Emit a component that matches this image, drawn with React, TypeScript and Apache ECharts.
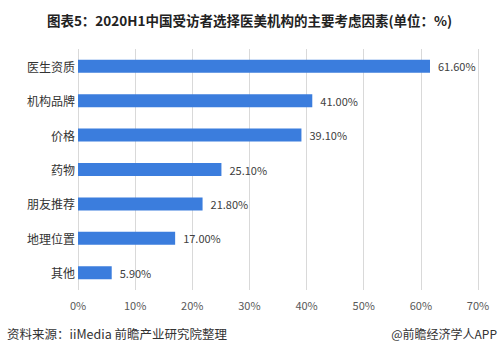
import React, { useEffect, useRef } from "react";
import * as echarts from "echarts";

const categories = ["医生资质", "机构品牌", "价格", "药物", "朋友推荐", "地理位置", "其他"];
const values = [61.6, 41.0, 39.1, 25.1, 21.8, 17.0, 5.9];
const titleText = "图表5：2020H1中国受访者选择医美机构的主要考虑因素(单位：%)";
const sourceText = "资料来源：iiMedia 前瞻产业研究院整理";
const brandText = "@前瞻经济学人APP";

export default function App() {
  const ref = useRef<HTMLDivElement>(null);
  useEffect(() => {
    const chart = echarts.init(ref.current!, null, { renderer: "svg" });
    chart.setOption({
      animation: false,
      backgroundColor: "#ffffff",
      textStyle: { fontFamily: "'Noto Sans CJK SC', sans-serif" },
      title: {
        text: titleText,
        left: "center",
        top: 8,
        textStyle: { fontSize: 13.5, fontWeight: "bold", color: "#222" },
      },
      grid: { left: 78, right: 21, top: 49, bottom: 63, containLabel: false },
      xAxis: {
        type: "value",
        min: 0,
        max: 70,
        interval: 10,
        axisLine: { show: false },
        axisTick: { show: false },
        splitLine: { show: true, lineStyle: { color: "#d9d9d9", width: 1 } },
        axisLabel: { formatter: "{value}%", color: "#595959", fontSize: 11, margin: 9 },
      },
      yAxis: {
        type: "category",
        data: categories,
        inverse: true,
        axisLine: { show: false },
        axisTick: { show: false },
        axisLabel: { color: "#333", fontSize: 12, margin: 3 },
      },
      series: [
        {
          type: "bar",
          data: values,
          barWidth: 13,
          itemStyle: { color: "#3b7ddd" },
          label: {
            show: true,
            position: "right",
            distance: 8,
            color: "#404040",
            fontSize: 11,
            formatter: (p: any) => p.value.toFixed(2) + "%",
          },
        },
      ],
      graphic: [
        {
          type: "text",
          left: 7,
          top: 327,
          style: { text: sourceText, fontSize: 12.5, fill: "#333", fontFamily: "'Noto Sans CJK SC', sans-serif" },
        },
        {
          type: "text",
          right: 2,
          top: 327,
          style: { text: brandText, fontSize: 12, fill: "#333", fontFamily: "'Noto Sans CJK SC', sans-serif" },
        },
      ],
    });
    return () => chart.dispose();
  }, []);
  return <div ref={ref} style={{ width: 499, height: 353, position: "absolute", left: 0, top: 0 }} />;
}
